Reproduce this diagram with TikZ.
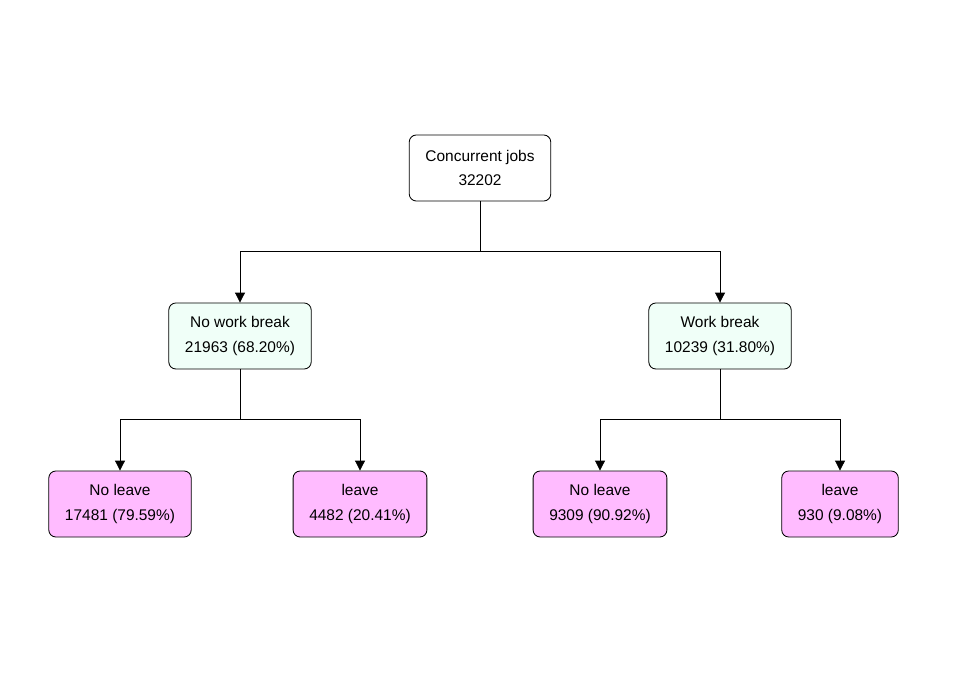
\documentclass[tikz,border=0pt]{standalone}
\usepackage{fontspec}
\setmainfont{Liberation Sans}
\usepackage{tikz}
\usetikzlibrary{positioning, arrows.meta}

\definecolor{splitfill}{RGB}{240,255,248}
\definecolor{leaffill}{RGB}{255,187,255}

\begin{document}
\begin{tikzpicture}[
    on grid,
    box/.style={draw, rounded corners=5pt, align=center, minimum height=1.65cm, inner xsep=11.5pt,
        font=\fontsize{11}{17.5}\selectfont, line width=0.6pt},
    split/.style={box, fill=splitfill},
    leaf/.style={box, fill=leaffill},
    link/.style={line width=0.6pt, -{Triangle[width=7pt,length=7pt]}}
    ]
        \useasboundingbox[fill=white] (0,0) rectangle (24,16.8);

        \node[box, fill=white](root) at (12,12.6){Concurrent jobs\\32202};
        \node[split](nowork)[below left = 4.2cm and 6cm of root]{No work break\\21963 (68.20\%)};
        \node[split](work)[below right = 4.2cm and 6cm of root]{Work break\\10239 (31.80\%)};
        \node[leaf](nwnoleave)[below left = 4.2cm and 3cm of nowork]{No leave\\17481 (79.59\%)};
        \node[leaf](nwleave)[below right = 4.2cm and 3cm of nowork]{leave\\4482 (20.41\%)};
        \node[leaf](wnoleave)[below left = 4.2cm and 3cm of work]{No leave\\9309 (90.92\%)};
        \node[leaf](wleave)[below right = 4.2cm and 3cm of work]{leave\\930 (9.08\%)};

        \draw[link] (root.south) -- ++(0,-1.25) -| (nowork.north);
        \draw[link] (root.south) -- ++(0,-1.25) -| (work.north);
        \draw[link] (nowork.south) -- ++(0,-1.25) -| (nwnoleave.north);
        \draw[link] (nowork.south) -- ++(0,-1.25) -| (nwleave.north);
        \draw[link] (work.south) -- ++(0,-1.25) -| (wnoleave.north);
        \draw[link] (work.south) -- ++(0,-1.25) -| (wleave.north);
    \end{tikzpicture}
\end{document}
